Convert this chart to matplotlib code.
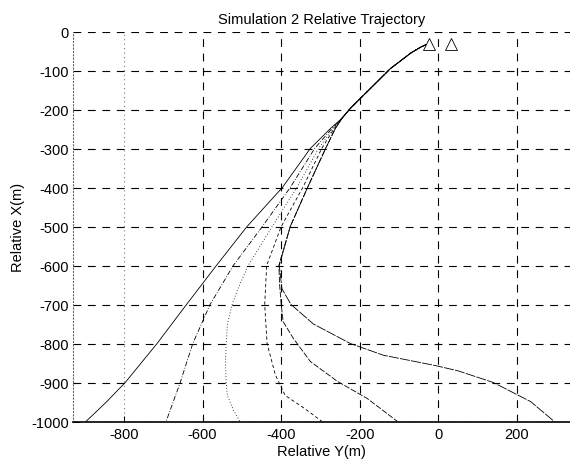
import matplotlib
matplotlib.use("Agg")
import matplotlib.pyplot as plt

plt.rcParams['font.family'] = ['Liberation Sans', 'DejaVu Sans']
plt.rcParams['axes.unicode_minus'] = False

# shared start of all runs (Relative Y, Relative X)
common_y = [-30, -45, -70, -122, -173, -224, -245]
common_x = [-33, -40, -55, -95, -146, -197, -222]

# the six runs, Relative Y / Relative X after the shared start
run1_y = [-276, -326, -397, -487, -565, -641, -716, -797, -845, -897]
run1_x = [-250, -300, -400, -500, -600, -700, -800, -900, -950, -1000]

run2_y = [-272, -315, -377, -448, -522, -581, -625, -657, -693]
run2_x = [-250, -300, -400, -500, -600, -700, -800, -900, -1000]

run3_y = [-269, -305, -360, -423, -484, -510, -525, -537, -540, -542, -540, -537, -522, -505]
run3_x = [-250, -300, -400, -500, -600, -659, -700, -750, -800, -850, -900, -933, -970, -1000]

run4_y = [-266, -297, -345, -400, -437, -442, -436, -415, -390, -340, -296]
run4_x = [-250, -300, -400, -500, -600, -700, -800, -880, -933, -967, -1000]

run5_y = [-263, -287, -333, -377, -406, -404, -400, -395, -369, -326, -257, -181, -104]
run5_x = [-250, -300, -400, -500, -600, -650, -700, -744, -787, -846, -897, -941, -1000]

run6_y = [-263, -287, -333, -377, -405, -398, -375, -318, -224, -140, -10, 50, 140, 235, 295]
run6_x = [-250, -300, -400, -500, -600, -660, -700, -750, -800, -830, -856, -870, -900, -949, -1000]

marker_y = [-25, 31]
marker_x = [-31, -31]

runs = [(run1_y, run1_x, '-'),
        (run2_y, run2_x, (0, (6, 2, 1, 2))),
        (run3_y, run3_x, (0, (1, 2.5))),
        (run4_y, run4_x, (0, (4, 3))),
        (run5_y, run5_x, (0, (7, 2))),
        (run6_y, run6_x, (0, (12, 1.5)))]

fs = 10.5

fig = plt.figure(figsize=(5.7, 4.64), dpi=100)
ax = fig.add_axes([0.128, 0.0894, 0.872, 0.8405])

for ry, rx, ls in runs:
    ax.plot(common_y + ry, common_x + rx, color='k', lw=0.6, linestyle=ls)

ax.plot(marker_y, marker_x, linestyle='none', marker='^', markersize=8,
        markerfacecolor='white', markeredgecolor='k', markeredgewidth=0.6)

ax.set_xlim(-930, 335)
ax.set_ylim(-1000, 0)
ax.set_xticks([-800, -600, -400, -200, 0, 200])
ax.set_yticks(range(-1000, 1, 100))

ax.grid(True, color='k', lw=0.8, linestyle=(0, (7, 6)))
for gl, v in zip(ax.get_xgridlines(), ax.get_xticks()):
    if v == -800:
        gl.set_linestyle((0, (1, 3)))
        gl.set_color('#777777')
ax.set_axisbelow(True)

ax.spines['top'].set_visible(False)
ax.spines['right'].set_visible(False)
ax.spines['left'].set_linestyle((0, (1, 2)))
ax.spines['left'].set_color('#666666')
ax.spines['bottom'].set_linewidth(1.2)

ax.tick_params(direction='in', length=4, width=0.7, labelsize=fs)
ax.tick_params(axis='x', pad=4)
ax.tick_params(axis='y', pad=3)

ax.set_title('Simulation 2 Relative Trajectory', fontsize=fs, pad=6)
ax.set_xlabel('Relative Y(m)', fontsize=fs, labelpad=2)
ax.set_ylabel('Relative X(m)', fontsize=fs, labelpad=4)

plt.savefig('out.png', dpi=100)
